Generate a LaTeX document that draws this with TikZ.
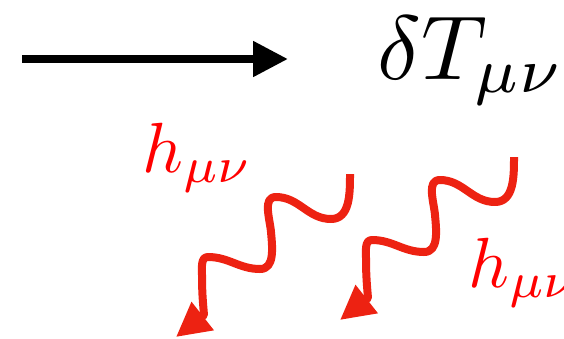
\documentclass[tikz,border=0pt]{standalone}
\usetikzlibrary{arrows.meta}
\definecolor{waveRed}{RGB}{237,34,18}
\begin{document}
\begin{tikzpicture}[x=1pt,y=1pt,
  blackarrow/.style={line width=8pt,-{Triangle[length=35pt,width=34pt]}},
  wavearrow/.style={draw=waveRed,line width=8pt,line join=round,-{Triangle[length=34pt,width=34pt]},waveRed},
  bigmath/.style={anchor=base west,inner sep=0pt,scale=9.1},
  redmath/.style={anchor=base west,inner sep=0pt,text=red,scale=7.1}]
\useasboundingbox (0,0) rectangle (564,-338);
% black arrow
\coordinate (arrS) at (22,-59);
\coordinate (arrE) at (288,-59);
\draw[blackarrow] (arrS) -- (arrE);
% labels
\node[bigmath] (dT) at (376,-79) {$\delta T_{\mu\nu}$};
\node[redmath] (h1) at (141,-172) {$h_{\mu\nu}$};
\node[redmath] (h2) at (467,-287) {$h_{\mu\nu}$};
% wavy arrows
\foreach \dx/\dy/\n in {0/0/1,164/17/2}{
\begin{scope}[shift={(\dx,\dy)}]
\coordinate (w\n s) at (350,-174);
\coordinate (w\n t) at (176,-337);
\draw[wavearrow] (w\n s) to[out=-90,in=0] (331,-219)
  to[out=180,in=0] (276,-197)
  to[out=180,in=95] (271,-232)
  to[out=-85,in=0] (260,-269)
  to[out=180,in=0] (208,-257)
  to[out=180,in=90] (202,-275)
  to[out=-90,in=95] (204,-315)
  -- (w\n t);
\end{scope}}
\end{tikzpicture}
\end{document}
